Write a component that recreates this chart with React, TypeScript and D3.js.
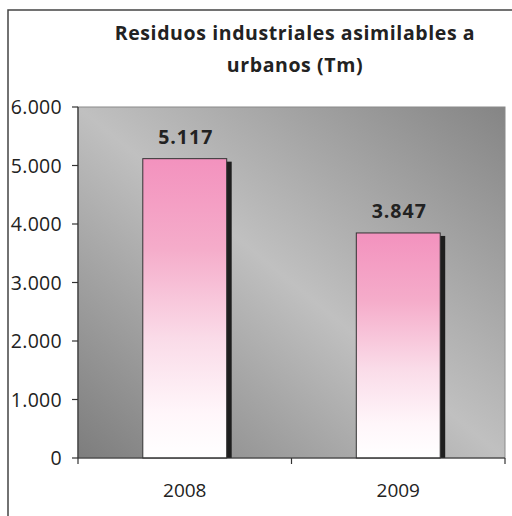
import React from "react";
import * as d3 from "d3";

const categories = ["2008", "2009"];
const values = [5117, 3847];
const valueLabels = ["5.117", "3.847"];
const yTicks = [0, 1000, 2000, 3000, 4000, 5000, 6000];
const yTickLabels = ["0", "1.000", "2.000", "3.000", "4.000", "5.000", "6.000"];
const titleLines = ["Residuos industriales asimilables a", "urbanos (Tm)"];

const W = 512;
const H = 516;
const plot = { left: 78, right: 505, top: 107, bottom: 458 };

export default function App() {
  const x = d3
    .scaleBand<string>()
    .domain(categories)
    .range([plot.left, plot.right])
    .paddingInner(0.607)
    .paddingOuter(0.3035);
  const y = d3.scaleLinear().domain([0, 6000]).range([plot.bottom, plot.top]);
  const step = x.step();
  const font = "'Open Sans', 'DejaVu Sans', sans-serif";
  const txt = "#222";
  const bw = x.bandwidth();

  return (
    <div style={{ position: "absolute", left: 0, top: 0 }}>
      <svg width={W} height={H} style={{ display: "block" }}>
        <defs>
          <linearGradient id="bg" x1="0" y1="1" x2="1" y2="0">
            <stop offset="0" stopColor="#7d7d7d" />
            <stop offset="0.5" stopColor="#c0c0c0" />
            <stop offset="1" stopColor="#858585" />
          </linearGradient>
          <linearGradient id="bar" x1="0" y1="0" x2="0" y2="1">
            <stop offset="0" stopColor="#f392be" />
            <stop offset="0.3" stopColor="#f5acca" />
            <stop offset="0.6" stopColor="#fadbe8" />
            <stop offset="0.85" stopColor="#fff6fa" />
            <stop offset="1" stopColor="#ffffff" />
          </linearGradient>
        </defs>
        <rect x={0} y={0} width={W} height={H} fill="#ffffff" />
        <rect x={8} y={10} width={520} height={520} fill="#ffffff" stroke="#444" strokeWidth={1.5} />
        {titleLines.map((t, i) => (
          <text
            key={t}
            x={295}
            y={40 + i * 32}
            textAnchor="middle"
            fontFamily={font}
            fontWeight="bold"
            fontSize={19.5}
            letterSpacing={0.6}
            fill={txt}
          >
            {t}
          </text>
        ))}
        <rect
          x={plot.left}
          y={plot.top}
          width={plot.right - plot.left}
          height={plot.bottom - plot.top}
          fill="url(#bg)"
          stroke="#8a8a8a"
          strokeWidth={1}
        />
        {categories.map((c, i) => {
          const bx = x(c)!;
          const by = y(values[i]);
          return (
            <g key={c}>
              <rect x={bx + 5} y={by + 3} width={bw} height={plot.bottom - by - 3} fill="#1e1e1e" />
              <rect
                x={bx}
                y={by}
                width={bw}
                height={plot.bottom - by}
                fill="url(#bar)"
                stroke="#333"
                strokeWidth={1}
              />
              <text
                x={bx + bw / 2 + 1}
                y={by - 15}
                textAnchor="middle"
                fontFamily={font}
                fontWeight="bold"
                fontSize={19.5}
                letterSpacing={1}
                fill={txt}
              >
                {valueLabels[i]}
              </text>
              <text
                x={bx + bw / 2}
                y={497}
                textAnchor="middle"
                fontFamily={font}
                fontSize={19}
                fill={txt}
              >
                {c}
              </text>
            </g>
          );
        })}
        <line x1={plot.left} x2={plot.left} y1={plot.top} y2={plot.bottom} stroke="#333" strokeWidth={1.2} />
        <line x1={plot.left} x2={plot.right} y1={plot.bottom} y2={plot.bottom} stroke="#333" strokeWidth={1.2} />
        {yTicks.map((t, i) => (
          <g key={t}>
            <line x1={plot.left - 6} x2={plot.left} y1={y(t)} y2={y(t)} stroke="#333" strokeWidth={1.2} />
            <text
              x={62}
              y={y(t)}
              dy="0.36em"
              textAnchor="end"
              fontFamily={font}
              fontSize={19.5}
              letterSpacing={0.3}
              fill={txt}
            >
              {yTickLabels[i]}
            </text>
          </g>
        ))}
        {d3.range(categories.length + 1).map((i) => {
          const tx = plot.left + i * step;
          return (
            <line key={i} x1={tx} x2={tx} y1={plot.bottom} y2={plot.bottom + 6} stroke="#333" strokeWidth={1.2} />
          );
        })}
      </svg>
    </div>
  );
}
